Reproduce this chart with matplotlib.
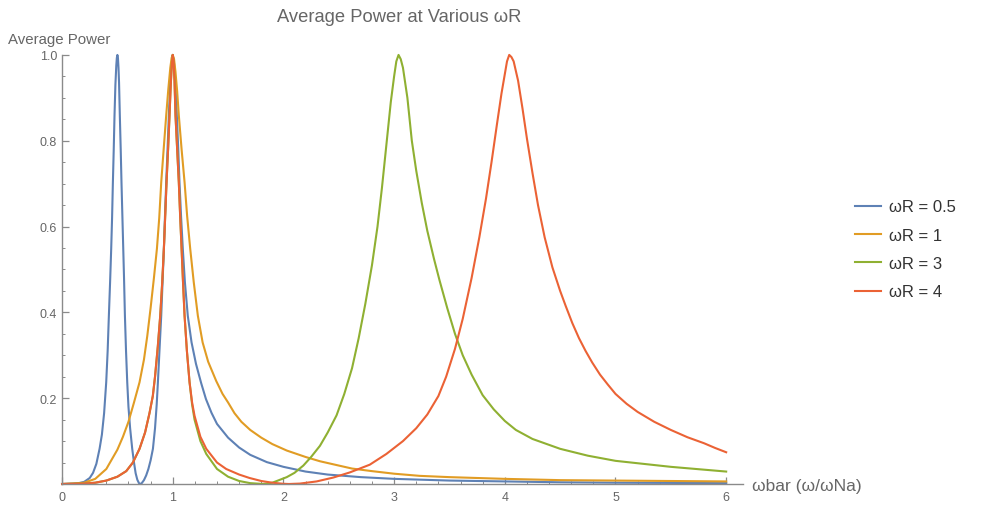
import numpy as np
import matplotlib.pyplot as plt

plt.rcParams['font.family'] = ['Liberation Sans', 'DejaVu Sans']

# average power curves, omega-bar on x, normalised power on y
x_05 = [0, 0.1, 0.15, 0.2, 0.25, 0.28, 0.31, 0.339, 0.36, 0.38, 0.399, 0.412, 0.423, 0.434,
        0.444, 0.452, 0.459, 0.467, 0.474, 0.482, 0.49, 0.495, 0.5, 0.505, 0.51, 0.515,
        0.522, 0.53, 0.537, 0.545, 0.553, 0.56, 0.568, 0.578, 0.589, 0.6, 0.615, 0.634,
        0.65, 0.665, 0.68, 0.695, 0.707, 0.72, 0.74, 0.76, 0.78, 0.8, 0.821, 0.84, 0.855,
        0.866, 0.88, 0.896, 0.908, 0.92, 0.93, 0.941, 0.953, 0.965, 0.977, 0.988, 1.0,
        1.012, 1.025, 1.037, 1.05, 1.061, 1.075, 1.091, 1.11, 1.136, 1.17, 1.21, 1.257,
        1.3, 1.35, 1.4, 1.5, 1.6, 1.7, 1.85, 2.0, 2.2, 2.4, 2.7, 3.0, 3.5, 4.0, 4.5, 5.0, 6.0]
p_05 = [0, 0.001, 0.002, 0.005, 0.014, 0.026, 0.047, 0.082, 0.115, 0.165, 0.237, 0.31, 0.392, 0.47,
        0.548, 0.62, 0.70, 0.78, 0.859, 0.93, 0.975, 0.993, 1.0, 0.993, 0.97, 0.935,
        0.859, 0.78, 0.703, 0.625, 0.548, 0.48, 0.392, 0.31, 0.237, 0.18, 0.13, 0.082,
        0.05, 0.025, 0.01, 0.002, 0.0, 0.002, 0.009, 0.02, 0.035, 0.055, 0.082, 0.13, 0.185,
        0.237, 0.31, 0.392, 0.47, 0.548, 0.625, 0.703, 0.78, 0.859, 0.93, 0.975, 1.0,
        0.98, 0.93, 0.859, 0.78, 0.703, 0.625, 0.548, 0.47, 0.392, 0.33, 0.28, 0.235,
        0.198, 0.166, 0.14, 0.108, 0.085, 0.068, 0.051, 0.04, 0.029, 0.022, 0.016, 0.012, 0.008, 0.006, 0.004, 0.003, 0.002]

x_1 = [0, 0.1, 0.2, 0.3, 0.4, 0.5, 0.55, 0.6, 0.65, 0.7, 0.74, 0.77, 0.8, 0.83, 0.857,
       0.878, 0.896, 0.918, 0.941, 0.96, 0.978, 0.99, 1.0, 1.012, 1.025, 1.04, 1.055,
       1.08, 1.107, 1.13, 1.158, 1.19, 1.227, 1.27, 1.32, 1.393, 1.45, 1.5, 1.558, 1.62,
       1.7, 1.8, 1.9, 2.03, 2.2, 2.33, 2.5, 2.62, 2.8, 3.0, 3.23, 3.5, 4.0, 4.5, 5.0, 5.5, 6.0]
p_1 = [0, 0.001, 0.003, 0.012, 0.035, 0.08, 0.11, 0.145, 0.19, 0.237, 0.29, 0.345, 0.41, 0.48, 0.548,
       0.62, 0.703, 0.78, 0.859, 0.92, 0.97, 0.993, 1.0, 0.99, 0.96, 0.915, 0.859,
       0.78, 0.703, 0.625, 0.548, 0.47, 0.392, 0.33, 0.285, 0.24, 0.21, 0.19, 0.165, 0.145,
       0.126, 0.108, 0.093, 0.078, 0.063, 0.053, 0.043, 0.036, 0.03, 0.024, 0.019, 0.016, 0.012, 0.009, 0.008, 0.007, 0.006]

x_3 = [0, 0.2, 0.3, 0.4, 0.5, 0.58, 0.64, 0.7, 0.75, 0.79, 0.82, 0.84, 0.865, 0.887, 0.905,
       0.92, 0.932, 0.944, 0.958, 0.971, 0.982, 0.991, 1.0, 1.008, 1.016, 1.025, 1.04,
       1.055, 1.067, 1.08, 1.093, 1.107, 1.128, 1.152, 1.175, 1.197, 1.25, 1.303, 1.4,
       1.5, 1.6, 1.7, 1.82, 1.9, 2.03, 2.1, 2.18, 2.25, 2.33, 2.4, 2.48, 2.55, 2.62, 2.68,
       2.74, 2.8, 2.85, 2.89, 2.93, 2.97, 3.0, 3.02, 3.04, 3.06, 3.08, 3.12, 3.16, 3.2,
       3.25, 3.3, 3.36, 3.41, 3.48, 3.55, 3.62, 3.7, 3.8, 3.9, 4.0, 4.1, 4.25, 4.5, 4.75,
       5.0, 5.5, 6.0]
p_3 = [0, 0.001, 0.003, 0.008, 0.017, 0.03, 0.05, 0.082, 0.12, 0.165, 0.205, 0.25, 0.32, 0.392, 0.47,
       0.548, 0.625, 0.703, 0.78, 0.859, 0.93, 0.975, 1.0, 0.985, 0.94, 0.859, 0.78,
       0.703, 0.625, 0.548, 0.47, 0.392, 0.31, 0.237, 0.185, 0.15, 0.1, 0.07, 0.035,
       0.017, 0.007, 0.002, 0.0, 0.003, 0.016, 0.026, 0.043, 0.063, 0.089, 0.12, 0.16, 0.21, 0.27, 0.34,
       0.42, 0.51, 0.6, 0.69, 0.79, 0.89, 0.95, 0.985, 1.0, 0.99, 0.97, 0.9, 0.8, 0.73,
       0.655, 0.59, 0.525, 0.475, 0.41, 0.35, 0.30, 0.255, 0.207, 0.174, 0.147, 0.126, 0.105, 0.082, 0.066,
       0.054, 0.04, 0.029]

x_4 = [0, 0.2, 0.3, 0.4, 0.5, 0.58, 0.64, 0.7, 0.75, 0.79, 0.82, 0.84, 0.865, 0.887, 0.905,
       0.92, 0.932, 0.944, 0.958, 0.971, 0.982, 0.991, 1.0, 1.008, 1.016, 1.025, 1.04,
       1.055, 1.067, 1.08, 1.093, 1.107, 1.128, 1.152, 1.175, 1.197, 1.25, 1.303, 1.4,
       1.483, 1.6, 1.694, 1.8, 1.9, 2.0, 2.05, 2.15, 2.3, 2.45, 2.6, 2.78, 2.93, 3.08,
       3.2, 3.3, 3.4, 3.47, 3.55, 3.62, 3.7, 3.77, 3.83, 3.88, 3.93, 3.97, 4.0, 4.02, 4.04,
       4.06, 4.08, 4.12, 4.16, 4.2, 4.25, 4.3, 4.36, 4.43, 4.5, 4.55, 4.61, 4.67, 4.73, 4.79,
       4.86, 4.93, 5.0, 5.1, 5.2, 5.35, 5.5, 5.65, 5.8, 5.9, 6.0]
p_4 = [0, 0.001, 0.003, 0.008, 0.017, 0.03, 0.05, 0.082, 0.12, 0.165, 0.205, 0.25, 0.32, 0.392, 0.47,
       0.548, 0.625, 0.703, 0.78, 0.859, 0.93, 0.975, 1.0, 0.985, 0.94, 0.859, 0.78,
       0.703, 0.625, 0.548, 0.47, 0.392, 0.31, 0.237, 0.19, 0.159, 0.11, 0.082, 0.05,
       0.035, 0.022, 0.014, 0.007, 0.003, 0.0005, 0.0, 0.001, 0.006, 0.015, 0.027, 0.045, 0.07, 0.1,
       0.13, 0.162, 0.205, 0.25, 0.315, 0.385, 0.48, 0.575, 0.665, 0.75, 0.84, 0.91, 0.955, 0.985, 1.0,
       0.995, 0.985, 0.94, 0.875, 0.805, 0.725, 0.65, 0.575, 0.505, 0.45, 0.415, 0.375, 0.34, 0.31, 0.283,
       0.255, 0.232, 0.21, 0.187, 0.168, 0.145, 0.126, 0.109, 0.095, 0.084, 0.074]

series = [(x_05, p_05, '#5E81B5', 'ωR = 0.5'),
          (x_1, p_1, '#E19C24', 'ωR = 1'),
          (x_3, p_3, '#8FB032', 'ωR = 3'),
          (x_4, p_4, '#EB6235', 'ωR = 4')]

fig = plt.figure(figsize=(9.88, 5.06), dpi=100)
ax = fig.add_axes([0.0628, 0.0415, 0.689, 0.848])

for xs, ps, col, lab in series:
    ax.plot(xs, ps, color=col, lw=1.5, label=lab, clip_on=False, solid_joinstyle='round')

axis_col = '#8a8a8a'
text_col = '#666666'
ax.set_xlim(0, 6.15)
ax.set_ylim(0, 1.0)
ax.spines['top'].set_visible(False)
ax.spines['right'].set_visible(False)
for s in ('left', 'bottom'):
    ax.spines[s].set_color(axis_col)
    ax.spines[s].set_linewidth(1.0)

ax.set_xticks(np.arange(0, 7, 1))
ax.set_xticks(np.arange(0, 6.01, 0.2), minor=True)
ax.set_yticks([0.2, 0.4, 0.6, 0.8, 1.0])
ax.set_yticklabels(['0.2', '0.4', '0.6', '0.8', '1.0'])
ax.set_yticks(np.arange(0.05, 1.001, 0.05), minor=True)
ax.tick_params(which='both', direction='in', colors=axis_col, labelcolor=text_col, labelsize=9)
ax.tick_params(which='major', length=5, width=0.9)
ax.tick_params(which='minor', length=2.5, width=0.7)
ax.tick_params(axis='x', pad=5)

fig.text(8 / 988, 1 - 44 / 506, 'Average Power', ha='left', va='baseline',
         fontsize=10.8, color=text_col)
fig.text(752 / 988, 1 - 487 / 506, 'ωbar (ω/ωNa)', ha='left', va='center',
         fontsize=12.5, color=text_col)
fig.text(399 / 988, 1 - 17 / 506, 'Average Power at Various ωR', ha='center', va='center',
         fontsize=13.2, color=text_col)

fig.legend(loc='center left', bbox_to_anchor=(0.85, 0.505), frameon=False,
           fontsize=12, handlelength=1.55, labelspacing=0.8, handletextpad=0.5,
           labelcolor='#333333')

fig.savefig('out.png', dpi=100)
